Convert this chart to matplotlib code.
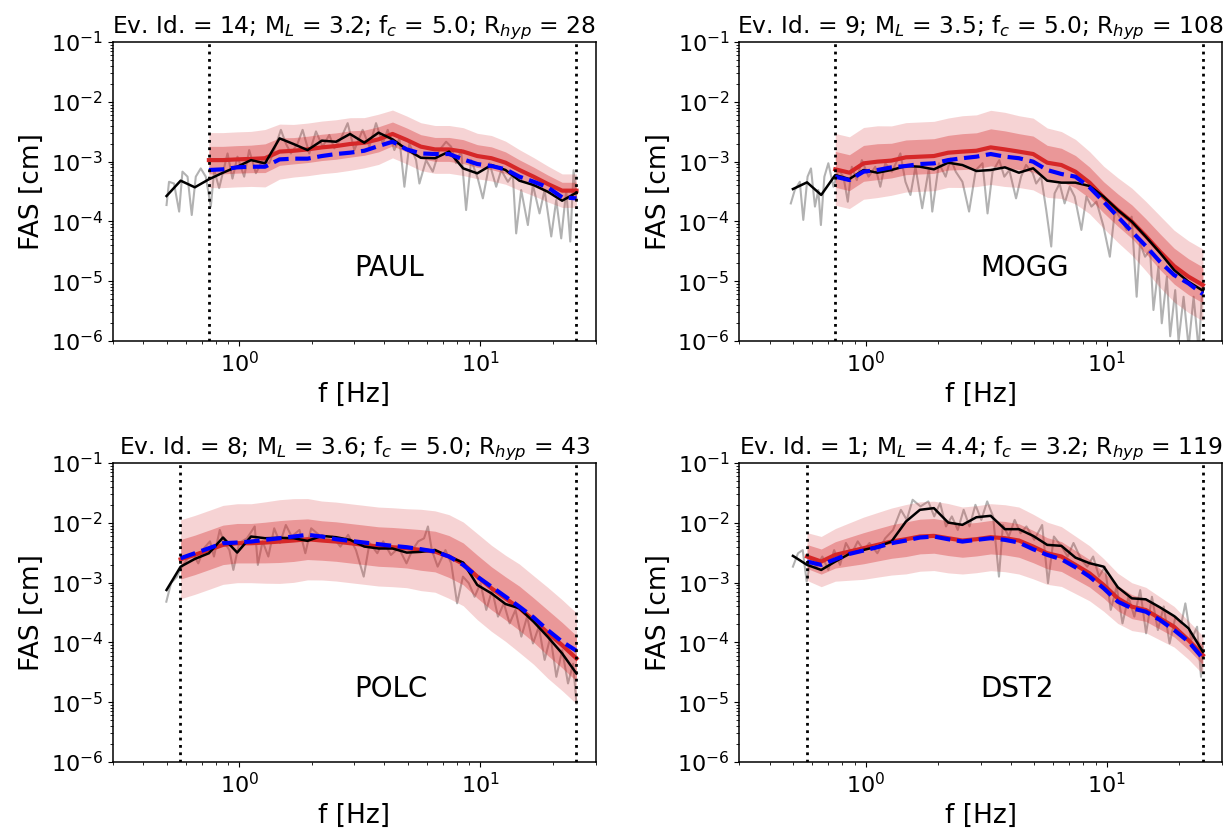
import matplotlib

matplotlib.use("Agg")
import matplotlib.pyplot as plt
import numpy as np

# frequency bins (Hz) of the smoothed spectra / model
FREQ = [0.500, 0.572, 0.655, 0.749, 0.857, 0.981, 1.12, 1.28, 1.47, 1.68,
        1.92, 2.20, 2.52, 2.88, 3.30, 3.78, 4.32, 4.95, 5.66, 6.48,
        7.41, 8.48, 9.70, 11.1, 12.7, 14.5, 16.6, 19.0, 21.8, 25.0]

# ---- PAUL ----
PAUL_OBS = [2.66e-4, 4.80e-4, 3.72e-4, 5.06e-4, 6.53e-4, 8.22e-4, 1.06e-3, 9.35e-4, 2.45e-3, 1.97e-3,
            1.56e-3, 2.24e-3, 2.15e-3, 2.90e-3, 2.07e-3, 3.05e-3, 2.36e-3, 1.60e-3, 1.16e-3, 1.14e-3,
            1.47e-3, 7.71e-4, 6.37e-4, 8.77e-4, 7.24e-4, 4.80e-4, 4.06e-4, 3.14e-4, 2.22e-4, 3.03e-4]
PAUL_MEAN = [1.06e-3, 1.06e-3, 1.09e-3, 1.11e-3, 1.14e-3, 1.47e-3, 1.52e-3, 1.60e-3, 1.73e-3,
             1.82e-3, 1.97e-3, 2.07e-3, 2.36e-3, 2.90e-3, 2.30e-3, 1.78e-3, 1.60e-3, 1.60e-3,
             1.47e-3, 1.24e-3, 1.14e-3, 9.6e-4, 7.24e-4, 5.60e-4, 4.23e-4, 3.27e-4, 3.27e-4]
PAUL_ALT = [7.24e-4, 7.43e-4, 8.02e-4, 8.22e-4, 8.22e-4, 1.09e-3, 1.12e-3, 1.12e-3, 1.24e-3,
            1.34e-3, 1.41e-3, 1.52e-3, 1.82e-3, 2.15e-3, 1.60e-3, 1.37e-3, 1.34e-3, 1.34e-3,
            1.09e-3, 9.12e-4, 8.45e-4, 7.43e-4, 5.60e-4, 4.62e-4, 3.72e-4, 2.53e-4, 2.43e-4]
PAUL_SIG = [0.23, 0.23, 0.23, 0.23, 0.24, 0.23, 0.22, 0.22, 0.22, 0.22, 0.22, 0.21, 0.21, 0.20,
            0.20, 0.20, 0.20, 0.20, 0.20, 0.19, 0.19, 0.18, 0.17, 0.16, 0.15, 0.14, 0.14]
PAUL_RAW = [(0.50, 1.88e-4), (0.512, 4.6e-4), (0.537, 4.3e-4), (0.564, 1.46e-4), (0.582, 6.8e-4),
            (0.611, 5.6e-4), (0.636, 1.28e-4), (0.661, 5.6e-4), (0.693, 7.7e-4), (0.727, 5.6e-4),
            (0.763, 1.77e-4), (0.788, 7.2e-4), (0.826, 3.6e-4), (0.895, 1.37e-3), (0.938, 5.2e-4),
            (0.984, 1.21e-3), (1.049, 5.6e-4), (1.100, 1.56e-3), (1.173, 6.4e-4), (1.250, 1.06e-3),
            (1.332, 9.4e-4), (1.397, 1.56e-3), (1.489, 3.4e-3), (1.562, 2.0e-3), (1.638, 1.37e-3),
            (1.746, 2.0e-3), (1.832, 3.4e-3), (1.952, 1.37e-3), (2.081, 3.2e-3), (2.218, 1.78e-3),
            (2.363, 2.8e-3), (2.479, 1.67e-3), (2.642, 2.45e-3), (2.816, 4.4e-3), (3.001, 1.56e-3),
            (3.250, 3.4e-3), (3.464, 1.78e-3), (3.691, 4.4e-3), (3.934, 2.0e-3), (4.126, 3.4e-3),
            (4.397, 1.56e-3), (4.613, 2.45e-3), (4.839, 3.8e-4), (5.075, 2.0e-3), (5.409, 1.06e-3),
            (5.584, 4.3e-4), (5.952, 1.06e-3), (6.344, 6.8e-4), (6.760, 1.56e-3), (7.205, 2.15e-3),
            (7.556, 1.78e-3), (7.925, 9.4e-4), (8.313, 1.56e-3), (8.719, 1.55e-4), (9.149, 1.06e-3),
            (9.750, 5.2e-4), (10.23, 2.43e-4), (10.90, 9.4e-4), (11.62, 3.8e-4), (12.19, 7.2e-4),
            (12.99, 4.6e-4), (13.62, 6.0e-4), (14.06, 6.3e-5), (14.75, 3.35e-4), (15.72, 8.7e-5),
            (16.49, 4.1e-4), (17.57, 1.36e-4), (18.44, 3.35e-4), (19.65, 5.6e-5), (20.61, 2.28e-4),
            (21.61, 5.2e-5), (22.67, 3.35e-4), (23.56, 4.6e-5), (24.32, 7.2e-4), (25.0, 2.28e-4)]

# ---- MOGG ----
MOGG_OBS = [3.48e-4, 4.50e-4, 2.77e-4, 5.97e-4, 5.12e-4, 7.24e-4, 6.53e-4, 7.24e-4, 8.45e-4, 8.22e-4,
            7.43e-4, 9.6e-4, 8.77e-4, 6.97e-4, 7.24e-4, 8.02e-4, 6.53e-4, 7.73e-4, 4.80e-4, 4.45e-4,
            4.45e-4, 3.91e-4, 2.59e-4, 1.55e-4, 9.9e-5, 5.56e-5, 3.00e-5, 1.54e-5, 9.8e-6, 6.95e-6]
MOGG_MEAN = [7.43e-4, 6.53e-4, 9.35e-4, 9.98e-4, 1.04e-3, 1.18e-3, 1.21e-3, 1.24e-3, 1.41e-3,
             1.47e-3, 1.52e-3, 1.73e-3, 1.60e-3, 1.47e-3, 1.34e-3, 9.6e-4, 8.77e-4, 6.79e-4,
             4.45e-4, 2.53e-4, 1.55e-4, 9.9e-5, 5.70e-5, 3.12e-5, 1.79e-5, 1.19e-5, 8.65e-6]
MOGG_ALT = [5.60e-4, 4.92e-4, 6.79e-4, 7.24e-4, 8.02e-4, 8.45e-4, 9.12e-4, 9.35e-4, 1.06e-3,
            1.14e-3, 1.21e-3, 1.34e-3, 1.21e-3, 1.14e-3, 9.98e-4, 7.24e-4, 6.21e-4, 5.60e-4,
            3.72e-4, 2.14e-4, 1.20e-4, 6.75e-5, 3.88e-5, 2.12e-5, 1.27e-5, 9.2e-6, 6.1e-6]
MOGG_SIG = [0.30, 0.30, 0.30, 0.30, 0.29, 0.29, 0.29, 0.29, 0.29, 0.30, 0.30, 0.31, 0.31, 0.30,
            0.30, 0.29, 0.28, 0.27, 0.26, 0.26, 0.27, 0.28, 0.29, 0.30, 0.30, 0.30, 0.30]
MOGG_RAW = [(0.490, 2.0e-4), (0.509, 3.35e-4), (0.534, 4.6e-4), (0.552, 1.06e-4), (0.575, 5.6e-4),
            (0.594, 7.7e-4), (0.617, 1.77e-4), (0.637, 3.35e-4), (0.653, 8.7e-5), (0.675, 5.6e-4),
            (0.701, 9.4e-4), (0.736, 3.8e-4), (0.772, 7.2e-4), (0.810, 5.6e-4), (0.844, 2.14e-4),
            (0.877, 8.2e-4), (0.920, 4.9e-4), (0.965, 1.06e-3), (1.029, 5.6e-4), (1.097, 8.2e-4),
            (1.151, 3.8e-4), (1.207, 9.4e-4), (1.287, 6.8e-4), (1.394, 1.37e-3), (1.463, 4.6e-4),
            (1.535, 2.77e-4), (1.610, 8.2e-4), (1.717, 1.66e-4), (1.830, 7.7e-4), (1.890, 1.46e-4),
            (2.014, 9.4e-4), (2.147, 5.6e-4), (2.253, 1.13e-3), (2.364, 6.8e-4), (2.520, 4.6e-4),
            (2.686, 1.46e-4), (2.863, 7.2e-4), (3.053, 9.4e-4), (3.203, 1.36e-4), (3.360, 6.8e-4),
            (3.582, 1.06e-3), (3.758, 5.6e-4), (3.943, 7.2e-4), (4.204, 2.43e-4), (4.410, 5.6e-4),
            (4.627, 8.8e-4), (4.932, 6.4e-4), (5.093, 4.3e-4), (5.343, 5.6e-4), (5.607, 1.55e-4),
            (5.882, 3.8e-5), (6.073, 2.94e-4), (6.370, 4.3e-4), (6.683, 2.0e-4), (7.012, 3.8e-4),
            (7.356, 2.6e-4), (7.842, 7.2e-5), (8.229, 2.6e-4), (8.633, 1.77e-4), (9.056, 2.14e-4),
            (9.654, 8.7e-5), (10.29, 2.57e-5), (10.80, 1.55e-4), (11.51, 1.06e-4), (12.08, 7.2e-5),
            (12.67, 1.2e-4), (13.29, 5.5e-6), (13.72, 4.3e-5), (14.40, 2.57e-5), (15.11, 3.3e-5),
            (15.60, 3.3e-6), (16.36, 1.75e-5), (16.89, 1.98e-6), (17.73, 1.19e-5), (18.30, 1.2e-6),
            (19.20, 7.1e-6), (19.83, 1.0e-6), (20.80, 5.5e-6), (21.82, 8e-7), (22.89, 5.5e-6),
            (24.02, 7e-7), (24.96, 9.2e-6)]

# ---- POLC ----
POLC_OBS = [7.53e-4, 1.85e-3, 2.49e-3, 3.10e-3, 5.68e-3, 3.18e-3, 5.90e-3, 5.53e-3, 5.61e-3, 5.53e-3,
            4.99e-3, 6.05e-3, 5.75e-3, 5.19e-3, 4.01e-3, 3.72e-3, 3.72e-3, 3.18e-3, 3.27e-3, 3.52e-3,
            2.73e-3, 2.16e-3, 9.14e-4, 6.62e-4, 4.39e-4, 3.72e-4, 2.22e-4, 1.24e-4, 6.55e-5, 3.02e-5]
POLC_MEAN = [2.46e-3, 2.91e-3, 3.52e-3, 4.28e-3, 4.56e-3, 4.56e-3, 4.68e-3, 4.86e-3, 5.06e-3,
             5.32e-3, 5.06e-3, 4.86e-3, 4.56e-3, 4.28e-3, 4.01e-3, 3.91e-3, 3.76e-3, 3.52e-3,
             3.31e-3, 2.73e-3, 2.06e-3, 1.26e-3, 8.04e-4, 5.46e-4, 3.72e-4, 2.37e-4, 1.45e-4,
             9.0e-5, 5.40e-5]
POLC_ALT = [2.56e-3, 3.10e-3, 3.76e-3, 4.56e-3, 4.68e-3, 4.86e-3, 5.19e-3, 5.53e-3, 5.90e-3,
            6.30e-3, 5.90e-3, 5.32e-3, 4.99e-3, 4.68e-3, 4.39e-3, 4.12e-3, 3.91e-3, 3.62e-3,
            3.31e-3, 2.73e-3, 1.98e-3, 1.26e-3, 8.57e-4, 5.82e-4, 3.96e-4, 2.62e-4, 1.61e-4,
            1.03e-4, 7.24e-5]
POLC_SIG = [0.33, 0.33, 0.33, 0.33, 0.33, 0.33, 0.34, 0.35, 0.35, 0.34, 0.33, 0.33, 0.33, 0.33,
            0.33, 0.33, 0.33, 0.34, 0.34, 0.35, 0.35, 0.36, 0.36, 0.36, 0.37, 0.37, 0.38, 0.38, 0.38]
POLC_RAW = [(0.499, 4.8e-4), (0.522, 9.8e-4), (0.552, 1.26e-3), (0.573, 1.74e-3), (0.606, 2.4e-3),
            (0.640, 3.1e-3), (0.677, 2.1e-3), (0.716, 3.8e-3), (0.757, 4.9e-3), (0.786, 2.73e-3),
            (0.831, 7.6e-3), (0.862, 4.9e-3), (0.911, 3.5e-3), (0.946, 1.63e-3), (1.000, 4.6e-3),
            (1.077, 5.5e-3), (1.160, 8.7e-3), (1.195, 1.98e-3), (1.250, 4.9e-3), (1.321, 2.73e-3),
            (1.397, 8.1e-3), (1.477, 4.6e-3), (1.561, 9.2e-3), (1.651, 5.9e-3), (1.778, 7.6e-3),
            (1.880, 3.1e-3), (1.988, 8.1e-3), (2.102, 6.7e-3), (2.264, 5.2e-3), (2.438, 5.9e-3),
            (2.627, 4.0e-3), (2.829, 6.3e-3), (3.048, 3.5e-3), (3.282, 1.26e-3), (3.470, 4.6e-3),
            (3.737, 3.1e-3), (3.952, 4.9e-3), (4.256, 2.9e-3), (4.584, 3.8e-3), (4.937, 2.1e-3),
            (5.221, 3.5e-3), (5.521, 4.9e-3), (5.837, 5.5e-3), (6.058, 8.7e-3), (6.287, 3.5e-3),
            (6.647, 1.85e-3), (7.158, 3.5e-3), (7.568, 2.1e-3), (8.001, 4.5e-4), (8.461, 1.26e-3),
            (8.946, 9.8e-4), (9.459, 5.8e-4), (10.00, 9.8e-4), (10.57, 3.5e-4), (11.18, 7.5e-4),
            (11.82, 2.7e-4), (12.50, 4.5e-4), (13.21, 2.08e-4), (13.97, 3.5e-4), (14.77, 1.25e-4),
            (15.61, 2.7e-4), (16.51, 9.6e-5), (17.45, 1.83e-4), (18.45, 5.1e-5), (19.51, 1.25e-4),
            (20.63, 2.66e-5), (21.81, 7.4e-5), (23.06, 2.06e-5), (24.21, 4.4e-5), (25.0, 9.5e-6)]

# ---- DST2 ----
DST2_OBS = [2.80e-3, 1.98e-3, 1.63e-3, 2.25e-3, 3.02e-3, 3.52e-3, 4.01e-3, 4.86e-3, 1.05e-2, 1.65e-2,
            1.76e-2, 1.01e-2, 9.25e-3, 1.24e-2, 1.31e-2, 7.83e-3, 7.83e-3, 6.05e-3, 4.28e-3, 4.12e-3,
            2.62e-3, 2.11e-3, 1.85e-3, 8.36e-4, 5.46e-4, 5.26e-4, 3.86e-4, 2.76e-4, 1.72e-4, 6.98e-5]
DST2_MEAN = [2.73e-3, 2.25e-3, 2.91e-3, 3.31e-3, 3.76e-3, 4.28e-3, 4.86e-3, 5.32e-3, 5.90e-3,
             6.05e-3, 5.53e-3, 5.06e-3, 5.32e-3, 5.75e-3, 5.53e-3, 5.06e-3, 4.01e-3, 3.10e-3,
             2.73e-3, 1.98e-3, 1.43e-3, 9.14e-4, 5.46e-4, 3.96e-4, 3.48e-4, 2.52e-4, 1.83e-4,
             1.09e-4, 6.14e-5]
DST2_ALT = [2.25e-3, 1.98e-3, 2.46e-3, 3.02e-3, 3.44e-3, 3.91e-3, 4.56e-3, 5.06e-3, 5.68e-3,
            5.90e-3, 5.32e-3, 4.86e-3, 5.19e-3, 5.53e-3, 5.19e-3, 4.68e-3, 3.62e-3, 2.91e-3,
            2.46e-3, 1.81e-3, 1.26e-3, 8.04e-4, 4.81e-4, 3.72e-4, 3.27e-4, 2.37e-4, 1.61e-4,
            1.03e-4, 5.40e-5]
DST2_SIG = [0.20, 0.21, 0.22, 0.24, 0.26, 0.27, 0.28, 0.29, 0.29, 0.29, 0.29, 0.28, 0.28, 0.28,
            0.28, 0.28, 0.27, 0.26, 0.25, 0.24, 0.23, 0.22, 0.21, 0.20, 0.19, 0.18, 0.17, 0.16, 0.16]
DST2_RAW = [(0.500, 1.85e-3), (0.525, 3.1e-3), (0.549, 3.5e-3), (0.570, 1.04e-3), (0.592, 2.4e-3),
            (0.626, 1.85e-3), (0.662, 2.73e-3), (0.701, 1.63e-3), (0.741, 3.5e-3), (0.784, 1.98e-3),
            (0.829, 4.6e-3), (0.877, 3.1e-3), (0.928, 4.9e-3), (0.981, 3.5e-3), (1.038, 4.6e-3),
            (1.119, 3.1e-3), (1.206, 5.5e-3), (1.300, 7.6e-3), (1.401, 1.65e-2), (1.482, 1.12e-2),
            (1.567, 2.43e-2), (1.689, 1.88e-2), (1.820, 2.28e-2), (1.926, 1.28e-2), (2.037, 2.14e-2),
            (2.154, 8.7e-3), (2.279, 1.28e-2), (2.411, 7.6e-3), (2.550, 1.65e-2), (2.697, 8.7e-3),
            (2.853, 2.0e-2), (3.018, 1.12e-2), (3.192, 2.28e-2), (3.377, 1.28e-2), (3.572, 1.26e-3),
            (3.708, 9.2e-3), (3.922, 5.9e-3), (4.149, 1.12e-2), (4.389, 6.7e-3), (4.642, 8.7e-3),
            (5.003, 5.2e-3), (5.393, 9.2e-3), (5.703, 9.8e-4), (6.033, 5.9e-3), (6.501, 4.0e-3),
            (6.877, 2.73e-3), (7.274, 4.6e-3), (7.841, 2.4e-3), (8.294, 1.85e-3), (8.773, 2.73e-3),
            (9.280, 1.26e-3), (9.815, 1.85e-3), (10.38, 3.5e-4), (10.98, 8.6e-4), (11.61, 2.08e-4),
            (12.29, 5.8e-4), (13.00, 2.7e-4), (13.75, 7.5e-4), (14.54, 1.42e-4), (15.38, 5.8e-4),
            (16.27, 1.61e-4), (17.21, 4.0e-4), (18.20, 9.6e-5), (19.26, 2.7e-4), (20.37, 2.08e-4),
            (21.15, 4.5e-4), (22.37, 1.09e-4), (23.66, 1.83e-4), (24.56, 2.66e-5), (25.0, 9.6e-5)]

STATIONS = ["PAUL", "MOGG", "POLC", "DST2"]
TITLES = [
    r"Ev. Id. = 14; M$_L$ = 3.2; f$_c$ = 5.0; R$_{hyp}$ = 28",
    r"Ev. Id. = 9; M$_L$ = 3.5; f$_c$ = 5.0; R$_{hyp}$ = 108",
    r"Ev. Id. = 8; M$_L$ = 3.6; f$_c$ = 5.0; R$_{hyp}$ = 43",
    r"Ev. Id. = 1; M$_L$ = 4.4; f$_c$ = 3.2; R$_{hyp}$ = 119",
]
F_LOW = [0.75, 0.75, 0.57, 0.57]
F_HIGH = 25.0

panels = [
    (PAUL_RAW, PAUL_OBS, PAUL_MEAN, PAUL_ALT, PAUL_SIG),
    (MOGG_RAW, MOGG_OBS, MOGG_MEAN, MOGG_ALT, MOGG_SIG),
    (POLC_RAW, POLC_OBS, POLC_MEAN, POLC_ALT, POLC_SIG),
    (DST2_RAW, DST2_OBS, DST2_MEAN, DST2_ALT, DST2_SIG),
]

fig, axes = plt.subplots(2, 2, figsize=(12.27, 8.32), dpi=100)
fig.subplots_adjust(left=0.0921, right=0.9959, top=0.9495, bottom=0.0841,
                    wspace=0.298, hspace=0.408)

freq = np.array(FREQ)
for ax, (raw, obs, mean, alt, sig), name, title, flo in zip(
        axes.flat, panels, STATIONS, TITLES, F_LOW):
    raw = np.array(raw)
    mean = np.array(mean)
    sig = np.array(sig)
    fm = freq[len(freq) - len(mean):]  # model bins start at the lower band limit

    ax.plot(raw[:, 0], raw[:, 1], color="gray", alpha=0.6, lw=1.5, zorder=1)
    ax.fill_between(fm, mean * 10 ** (-2 * sig), mean * 10 ** (2 * sig),
                    color="tab:red", alpha=0.2, lw=0, zorder=2)
    ax.fill_between(fm, mean * 10 ** (-sig), mean * 10 ** sig,
                    color="tab:red", alpha=0.35, lw=0, zorder=3)
    ax.plot(fm, mean, color="tab:red", lw=3, zorder=4)
    ax.plot(freq, obs, color="black", lw=1.8, zorder=5)
    ax.plot(fm, alt, color="blue", ls="--", lw=3, zorder=6)
    ax.axvline(flo, color="black", ls=":", lw=2, zorder=7)
    ax.axvline(F_HIGH, color="black", ls=":", lw=2, zorder=7)

    ax.set_xscale("log")
    ax.set_yscale("log")
    ax.set_xlim(0.3, 30)
    ax.set_ylim(1e-6, 1e-1)
    ax.set_xlabel("f [Hz]", fontsize=19)
    ax.set_ylabel("FAS [cm]", fontsize=19)
    ax.set_title(title, fontsize=16.8)
    ax.text(3, 1.2e-5, name, fontsize=20)
    ax.tick_params(labelsize=16)
    for spine in ax.spines.values():
        spine.set_linewidth(1.1)

fig.savefig("out.png", dpi=100)
plt.close(fig)
